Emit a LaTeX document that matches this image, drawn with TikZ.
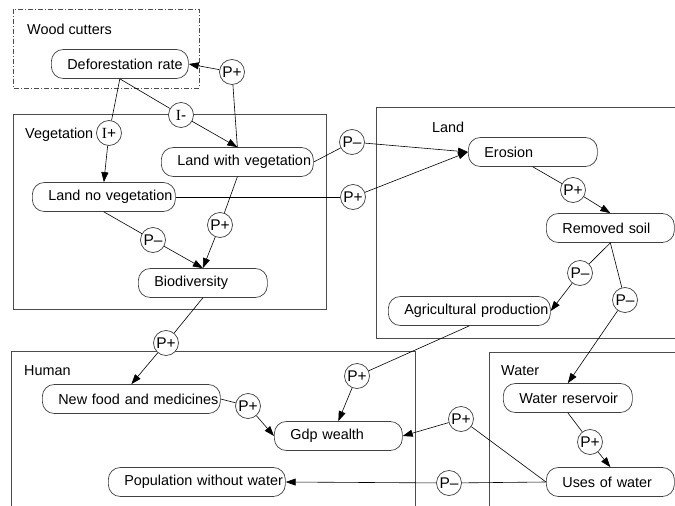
\documentclass[tikz,border=0pt]{standalone}
\usepackage{fontspec}
\setmainfont{Liberation Sans}
\newfontfamily\serfont{Liberation Serif}
\usetikzlibrary{arrows.meta}

\begin{document}
\begin{tikzpicture}[x=1pt,y=-1pt,
                font=\fontsize{14.4}{16}\selectfont,
                stock/.style={draw=black!75,fill=white,line width=0.7pt,rounded corners=12pt,minimum height=29pt,inner xsep=0pt,inner ysep=0pt,text width=#1,align=left,anchor=west,execute at begin node={\hspace*{16pt}}},
                sign/.style={draw=black!75,fill=white,line width=0.7pt,circle,inner sep=0pt,minimum size=25pt,font=\fontsize{15.5}{16}\selectfont},
                sector/.style={draw=black!70,line width=0.8pt},
                title/.style={inner sep=0pt,anchor=west},
                link/.style={line width=0.6pt},
                flow/.style={line width=0.6pt,-{Triangle[length=10pt,width=7pt]}}]
                \useasboundingbox (0,0) rectangle (675,506);

                \draw[sector,dash pattern=on 5pt off 2pt on 1pt off 2pt] (13,9) rectangle (199,88);
                \draw[sector] (13,114) rectangle (326,309);
                \draw[sector] (376,107) rectangle (690,338);
                \draw[sector] (11,351) rectangle (415,520);
                \draw[sector] (489,352) rectangle (690,520);

                \node[title] (woodlabel) at (27,29) {Wood cutters};
                \node[title] (veglabel) at (25,135) {Vegetation};
                \node[title] (landlabel) at (432,127) {Land};
                \node[title] (humanlabel) at (24,371) {Human};
                \node[title] (waterlabel) at (501,371) {Water};

                \node[stock=137pt] (defor) at (51,64) {Deforestation rate};
                \node[stock=152pt] (withveg) at (161,162) {Land with vegetation};
                \node[stock=143pt] (noveg) at (32,197) {Land no vegetation};
                \node[stock=129pt] (bio) at (138,283) {Biodiversity};
                \node[stock=129pt] (erosion) at (468,152) {Erosion};
                \node[stock=128pt] (removed) at (546,228) {Removed soil};
                \node[stock=162pt] (agri) at (388,311) {Agricultural production};
                \node[stock=178pt] (newfood) at (42,399) {New food and medicines};
                \node[stock=128pt] (gdp) at (274,436) {Gdp wealth};
                \node[stock=177pt] (pop) at (108,482) {Population without water};
                \node[stock=129pt] (reservoir) at (503,398) {Water reservoir};
                \node[stock=128pt] (uses) at (546,482) {Uses of water};

                \node[sign] (ip) at (109,133) {{\serfont I}+};
                \node[sign] (im) at (181,115) {{\serfont I}-};
                \node[sign] (pdefor) at (232,72) {P+};
                \node[sign] (pbioa) at (220,225) {P+};
                \node[sign] (pbiob) at (153,240) {P--};
                \node[sign] (perosa) at (352,142) {P--};
                \node[sign] (perosb) at (353,197) {P+};
                \node[sign] (psoil) at (573,190) {P+};
                \node[sign] (pagri) at (580,273) {P--};
                \node[sign] (preser) at (625,300) {P--};
                \node[sign] (pfood) at (166,343) {P+};
                \node[sign] (pgdpa) at (357,376) {P+};
                \node[sign] (pgdpb) at (248,406) {P+};
                \node[sign] (pgdpc) at (461,419) {P+};
                \node[sign] (puses) at (590,442) {P+};
                \node[sign] (ppop) at (449,483) {P--};

                \draw[link] (defor.south) -- (ip);
                \draw[flow] (ip) -- (noveg.north);
                \draw[link] (defor.south) -- (im);
                \draw[flow] (im) -- (withveg.north);
                \draw[link] (withveg.north) -- (pdefor);
                \draw[flow] (pdefor) -- (defor.east);
                \draw[link] (withveg.south) -- (pbioa);
                \draw[flow] (pbioa) -- (bio.north);
                \draw[link] (noveg.south) -- (pbiob);
                \draw[flow] (pbiob) -- (bio.north);
                \draw[link] (withveg.east) -- (perosa);
                \draw[flow] (perosa) -- (erosion.west);
                \draw[link] (noveg.east) -- (perosb);
                \draw[flow] (perosb) -- (erosion.west);
                \draw[link] (erosion.south) -- (psoil);
                \draw[flow] (psoil) -- (removed.north);
                \draw[link] (removed.south) -- (pagri);
                \draw[flow] (pagri) -- (agri.east);
                \draw[link] (removed.south) -- (preser);
                \draw[flow] (preser) -- (reservoir.north);
                \draw[link] (bio.south) -- (pfood);
                \draw[flow] (pfood) -- (newfood.north);
                \draw[link] (agri.south) -- (pgdpa);
                \draw[flow] (pgdpa) -- (gdp.north);
                \draw[link] (newfood.east) -- (pgdpb);
                \draw[flow] (pgdpb) -- (gdp.west);
                \draw[link] (uses.west) -- (pgdpc);
                \draw[flow] (pgdpc) -- (gdp.east);
                \draw[link] (reservoir.south) -- (puses);
                \draw[flow] (puses) -- (uses.north);
                \draw[link] (uses.west) -- (ppop);
                \draw[flow] (ppop) -- (pop.east);
            \end{tikzpicture}
\end{document}
